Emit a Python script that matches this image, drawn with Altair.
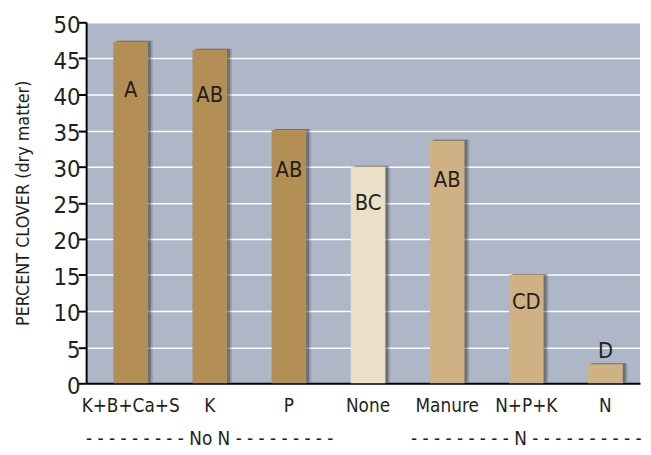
import altair as alt
import pandas as pd

treatments = ["K+B+Ca+S", "K", "P", "None", "Manure", "N+P+K", "N"]
clover = [47.3, 46.2, 35.1, 30.0, 33.6, 15.0, 2.65]
letters = ["A", "AB", "AB", "BC", "AB", "CD", "D"]
letter_y = [40.6, 39.9, 29.5, 25.0, 28.1, 11.3, 4.45]
fert_group = ["No N", "No N", "No N", "Control", "N", "N", "N"]

group_names = ["No N", "N"]
group_center = ["K", "N+P+K"]
dashes_left = [9, 9]
dashes_right = [9, 10]

df = pd.DataFrame({
    "treatment": treatments,
    "clover": clover,
    "letter": letters,
    "letter_y": letter_y,
    "group": fert_group,
})
gdf = pd.DataFrame({
    "treatment": group_center,
    "label": ["- " * l + n + " -" * r for n, l, r in zip(group_names, dashes_left, dashes_right)],
})

FONT = "DejaVu Sans Condensed, sans-serif"
INK = "#231F20"
W, H = 560, 365
SHIFT = 5

xscale = alt.Scale(paddingInner=0, paddingOuter=0)
xaxis = alt.Axis(title=None, labelAngle=0, ticks=False, domain=True,
                 domainColor="black", domainWidth=2,
                 labelOffset=SHIFT, labelFontSize=19, labelFont=FONT,
                 labelColor=INK, labelPadding=13, grid=False)
yscale = alt.Scale(domain=[0, 50], nice=False)
yaxis = alt.Axis(title="PERCENT CLOVER (dry matter)", values=list(range(0, 51, 5)),
                 grid=True, gridColor="white", gridWidth=1.5,
                 domainColor="black", domainWidth=2,
                 tickColor="black", tickSize=8, tickWidth=2,
                 labelFontSize=24, labelFont=FONT, labelColor=INK,
                 labelPadding=-2, labelOffset=3, labelOverlap=False,
                 titleFont=FONT, titleFontSize=18, titleFontWeight="normal",
                 titleColor=INK, titleX=-63, titleY=H / 2,
                 titleAlign="center", titleBaseline="middle")

xenc = alt.X("treatment:N", sort=treatments, scale=xscale, axis=xaxis)
yenc = alt.Y("clover:Q", scale=yscale, axis=yaxis)

color = alt.Color("group:N",
                  scale=alt.Scale(domain=["No N", "Control", "N"],
                                  range=["#B38F55", "#EBDFC8", "#CFB184"]),
                  legend=None)

base = alt.Chart(df)
shadow2 = base.mark_bar(size=35, color="#1a1a1a", opacity=0.15, xOffset=SHIFT + 5, yOffset=-1).encode(x=xenc, y=yenc)
shadow1 = base.mark_bar(size=35, color="#1a1a1a", opacity=0.35, xOffset=SHIFT + 3, yOffset=-1).encode(x=xenc, y=yenc)
bars = base.mark_bar(size=35, xOffset=SHIFT).encode(x=xenc, y=yenc, color=color)
text = base.mark_text(font=FONT, fontSize=22, color=INK, baseline="middle", xOffset=SHIFT).encode(
    x=xenc,
    y=alt.Y("letter_y:Q", scale=yscale, axis=yaxis),
    text="letter:N",
)
grp = alt.Chart(gdf).mark_text(font=FONT, fontSize=19, color=INK, baseline="middle", xOffset=SHIFT).encode(
    x=xenc,
    y=alt.value(H + 56),
    text="label:N",
)

chart = alt.layer(shadow2, shadow1, bars, text, grp).properties(
    width=W, height=H,
    autosize="none",
    padding={"left": 79, "top": 12, "right": 3, "bottom": 68},
).configure_view(fill="#ADB7C7", strokeWidth=0)

chart.save("out.html", embed_options={"renderer": "svg", "actions": False})
